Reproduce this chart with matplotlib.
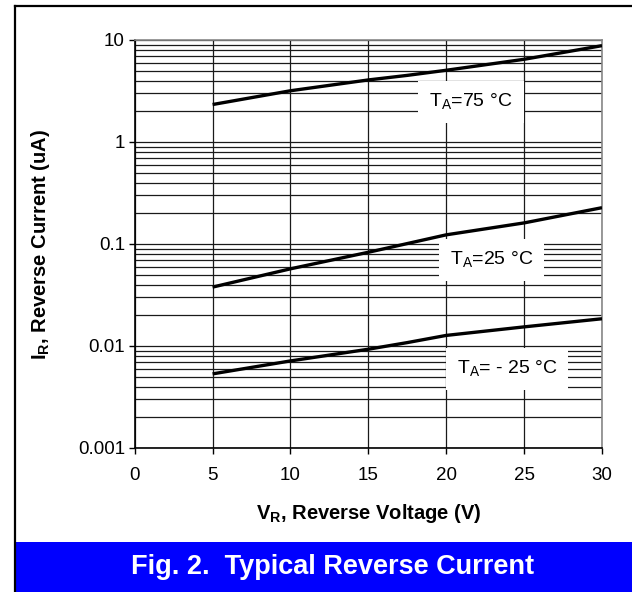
import numpy as np
import matplotlib
matplotlib.use('Agg')
import matplotlib.pyplot as plt
from matplotlib.lines import Line2D
from matplotlib.patches import Rectangle
from matplotlib.ticker import FixedLocator, FixedFormatter, LogLocator, NullFormatter

plt.rcParams.update({'font.family': 'Liberation Sans', 'font.size': 13,
                     'mathtext.fontset': 'custom',
                     'mathtext.rm': 'Liberation Sans',
                     'mathtext.bf': 'Liberation Sans:bold'})

# ---------- data ----------
vr = [5, 10, 15, 17.5, 20, 25, 30]
ir_75 = [2.33, 3.18, 4.06, 4.5, 5.05, 6.47, 8.8]
ir_25 = [0.0378, 0.0571, 0.083, 0.101, 0.123, 0.161, 0.227]
ir_m25 = [0.00533, 0.00714, 0.0093, 0.0108, 0.0127, 0.0154, 0.0185]

x_ticks = [0, 5, 10, 15, 20, 25, 30]
y_ticks = [0.001, 0.01, 0.1, 1, 10]
y_ticklabels = ['0.001', '0.01', '0.1', '1', '10']

W, H = 632, 592
fig = plt.figure(figsize=(W/100, H/100), dpi=100)
ax = fig.add_axes([134.7/W, 1-448/H, (602-134.7)/W, (448-40)/H])

for ir in (ir_75, ir_25, ir_m25):
    ax.plot(vr, ir, color='black', lw=2.4, solid_capstyle='butt', zorder=4)

ax.set_yscale('log')
ax.set_xlim(0, 30)
ax.set_ylim(0.001, 10)
ax.xaxis.set_major_locator(FixedLocator(x_ticks))
ax.yaxis.set_major_locator(FixedLocator(y_ticks))
ax.yaxis.set_major_formatter(FixedFormatter(y_ticklabels))
ax.yaxis.set_minor_locator(LogLocator(base=10, subs=np.arange(2, 10)))
ax.yaxis.set_minor_formatter(NullFormatter())

ax.grid(True, which='major', axis='both', color='#1a1a1a', lw=0.9)
ax.grid(True, which='minor', axis='y', color='#1a1a1a', lw=0.9)
ax.set_axisbelow(True)
ax.tick_params(axis='y', which='minor', length=0)
ax.tick_params(axis='y', which='major', length=4, width=1, pad=3, labelsize=13.5)
ax.tick_params(axis='x', which='major', length=4, width=1, pad=10, labelsize=13.5)
for s in ['top', 'right']:
    ax.spines[s].set_color('#888888')
    ax.spines[s].set_linewidth(1.2)
for s in ['left', 'bottom']:
    ax.spines[s].set_color('black')
    ax.spines[s].set_linewidth(1.2)

box = dict(facecolor='white', edgecolor='none', pad=8)
ax.text(21.6, 2.48, r'T$_\mathregular{A}$=75 °C', ha='center', va='center',
        fontsize=14, bbox=box, zorder=3)
ax.text(22.9, 0.0696, r'T$_\mathregular{A}$=25 °C', ha='center', va='center',
        fontsize=14, bbox=box, zorder=3)
ax.text(23.9, 0.00594, r'T$_\mathregular{A}$= - 25 °C', ha='center', va='center',
        fontsize=14, bbox=box, zorder=3)

ax.set_xlabel(r'V$_\mathbf{R}$, Reverse Voltage (V)', fontweight='bold',
              fontsize=14.5)
ax.set_ylabel(r'I$_\mathbf{R}$, Reverse Current (uA)', fontweight='bold',
              fontsize=14.5)
ax.xaxis.set_label_coords(0.5, (448-502)/408)
ax.yaxis.set_label_coords((52-134.7)/467.3, 0.5)

# outer frame and blue caption band
fig.patches.append(Rectangle((16/W, 0), 1-16/W, 50/H, transform=fig.transFigure,
                             facecolor='#0000FF', edgecolor='none', zorder=1))
fig.lines.append(Line2D([15/W, 15/W], [0, 1-6/H], transform=fig.transFigure,
                        color='black', lw=1.6))
fig.lines.append(Line2D([15/W, 1], [1-6/H, 1-6/H], transform=fig.transFigure,
                        color='black', lw=1.6))
fig.text(333/W, 1-567/H, 'Fig. 2.  Typical Reverse Current', color='white',
         fontweight='bold', fontsize=19.5, ha='center', va='center')

fig.savefig('out.png', dpi=100)
